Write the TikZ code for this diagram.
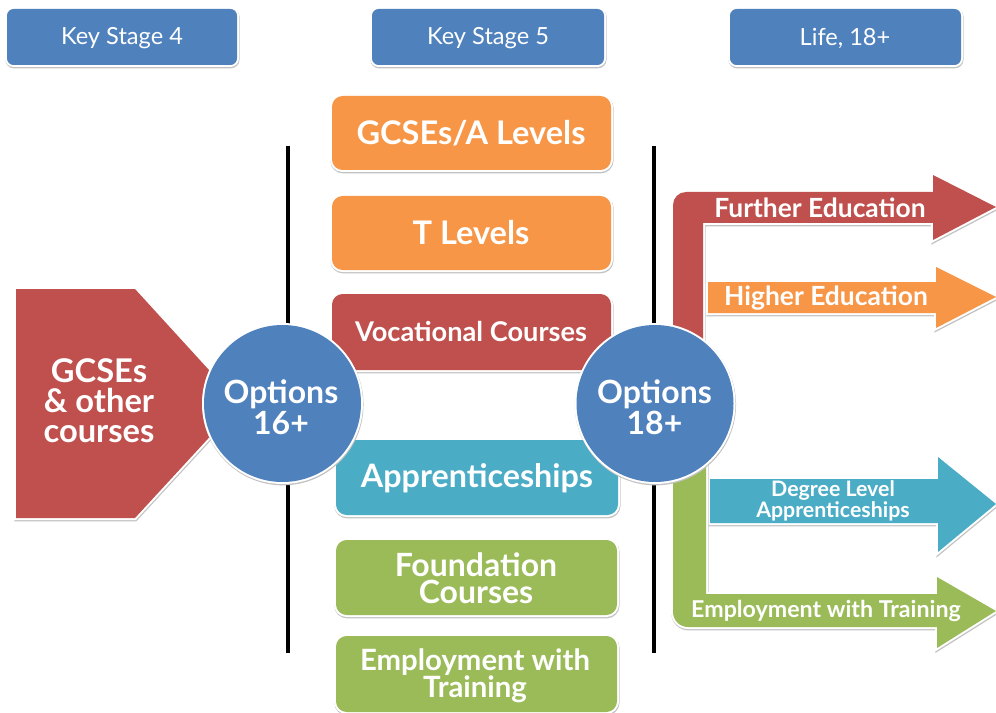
\documentclass[tikz,border=0pt]{standalone}
\usepackage{fontspec}
\setmainfont{Lato}
\definecolor{kblue}{HTML}{4F81BD}
\definecolor{kred}{HTML}{C0504D}
\definecolor{korange}{HTML}{F79646}
\definecolor{kteal}{HTML}{4BACC6}
\definecolor{kgreen}{HTML}{9BBB59}
\tikzset{
  x=0.75pt,y=-0.75pt,
  panel/.style={preaction={draw=black!24,line width=3.2pt,transform canvas={xshift=0.3pt,yshift=-0.9pt}},preaction={draw=white,line width=3pt}},
  headbox/.style={panel,fill=kblue,rounded corners=5pt},
  optbox/.style={panel,rounded corners=8pt},
  vsep/.style={draw=black,line width=3pt},
  big/.style={text=white,align=center,font=\bfseries\fontsize{#1}{#1}\selectfont},
  headtext/.style={text=white,font=\fontsize{17.7}{20}\selectfont},
  optcircle/.style={panel,circle,fill=kblue,minimum size=117.75pt,inner sep=0pt},
  opttext/.style={text=white,align=center,font=\bfseries\fontsize{24}{23}\selectfont}
}
\begin{document}
\begin{tikzpicture}
\useasboundingbox (0,0) rectangle (996,713);
% separators
\coordinate (s1t) at (288,146); \coordinate (s1b) at (288,653);
\coordinate (s2t) at (654,146); \coordinate (s2b) at (654,653);
\draw[vsep] (s1t) -- (s1b);
\draw[vsep] (s2t) -- (s2b);
% headers
\path[headbox] (7,9) rectangle (237,65);
\node[headtext] (ks4) at (122,38) {Key Stage 4};
\path[headbox] (372,9) rectangle (604,65);
\node[headtext] (ks5) at (488,38) {Key Stage 5};
\path[headbox] (730,9) rectangle (961,65);
\node[headtext] (life) at (845,38) {Life, 18+};
% pentagon
\path[panel,fill=kred] (16,289) -- (135,289) -- (240,404) -- (135,518) -- (16,518) -- cycle;
\node[text=white,align=center,font=\bfseries\fontsize{24.5}{22.5}\selectfont] (gcse) at (99,401) {GCSEs\\\& other\\courses};
% option boxes
\path[optbox,fill=korange] (332,96) rectangle (611,170);
\node[big=24.4] (a1) at (471,133) {GCSEs/A Levels};
\path[optbox,fill=korange] (332,196) rectangle (611,270);
\node[big=24.4] (a2) at (471,233) {T Levels};
\path[optbox,fill=kred] (332,294) rectangle (611,370);
\node[big=20.4] (a3) at (471,331) {Vocational Courses};
\path[optbox,fill=kteal] (336,440) rectangle (618,515);
\node[big=24.2] (a4) at (477,478) {Apprenticeships};
\path[optbox,fill=kgreen] (336,540) rectangle (617,615);
\node[text=white,align=center,font=\bfseries\fontsize{24}{20}\selectfont] (a5) at (476,578) {Foundation\\Courses};
\path[optbox,fill=kgreen] (336,636) rectangle (617,712);
\node[text=white,align=center,font=\bfseries\fontsize{22}{20}\selectfont] (a6) at (475,676) {Employment with\\Training};
% right arrows
\path[panel,fill=kred] (673,345) -- (673,205) arc[start angle=180,end angle=270,radius=13] -- (933,192) -- (933,175) -- (996,207) -- (933,240) -- (933,223) -- (703,223) -- (703,345) -- cycle;
\node[big=19.8] (r1) at (820,208) {Further Education};
\path[panel,fill=korange] (708,282) -- (936,282) -- (936,267) -- (996,297) -- (936,328) -- (936,313) -- (708,313) -- cycle;
\node[big=19.8] (r2) at (826,298) {Higher Education};
\path[panel,fill=kteal] (710,479) -- (938,479) -- (938,457) -- (996,504) -- (938,552) -- (938,523) -- (710,523) -- cycle;
\node[text=white,align=center,font=\bfseries\fontsize{16}{13}\selectfont] (r3) at (833,501) {Degree Level\\Apprenticeships};
\path[panel,fill=kgreen] (673,460) -- (673,612) arc[start angle=180,end angle=90,radius=15] -- (937,627) -- (937,648) -- (996,611) -- (937,577) -- (937,594) -- (706,594) -- (706,460) -- cycle;
\node[big=17.4] (r4) at (826,611) {Employment with Training};
% circles
\node[optcircle] (o16) at (282.5,403.5) {};
\node[opttext] (t16) at (281,407) {Options\\16+};
\node[optcircle] (o18) at (655,403.5) {};
\node[opttext] (t18) at (654.5,407) {Options\\18+};
\end{tikzpicture}
\end{document}
